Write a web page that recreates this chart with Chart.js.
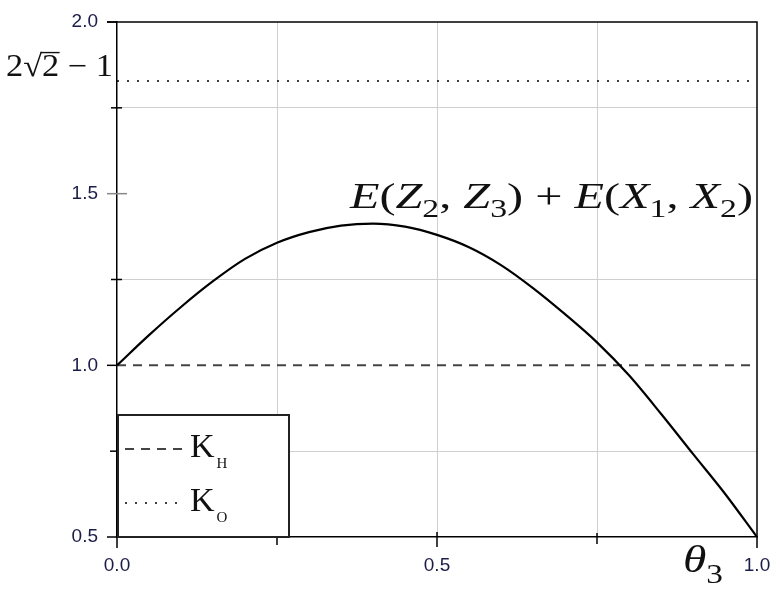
<!DOCTYPE html>
<html><head><meta charset="utf-8">
<script src="https://cdn.jsdelivr.net/npm/chart.js@4.4.1/dist/chart.umd.min.js"></script>
<style>html,body{margin:0;padding:0;background:#fff;}#wrap{width:782px;height:591px;}</style>
</head><body><div id="wrap"><canvas id="c" width="782" height="591"></canvas></div>
<script>
// ---- data ----
const thetaValues = [0, 0.05, 0.1, 0.15, 0.2, 0.25, 0.3, 0.35, 0.4, 0.45, 0.5, 0.55, 0.6, 0.65, 0.7, 0.75, 0.8, 0.85, 0.9, 0.95, 1.0];
const curveValues = [1.0, 1.088, 1.170, 1.245, 1.310, 1.357, 1.388, 1.407, 1.413, 1.404, 1.380, 1.344, 1.292, 1.225, 1.149, 1.067, 0.971, 0.859, 0.742, 0.626, 0.5];
const kHValue = 1.0;
const kOValue = 1.828;
const xRange = [0, 1];
const yRange = [0.5, 2.0];
const xLabelTicks = [0, 0.5, 1];
const yLabelTicks = [0.5, 1.0, 1.5, 2.0];
const legendMain = ['K', 'K'];
const legendSubs = ['H', 'O'];
const curveLabel = [['E',1,0],['(',0,0],['Z',1,0],['2',0,1],[', ',0,0],['Z',1,0],['3',0,1],[')',0,0],[' + ',0,0],['E',1,0],['(',0,0],['X',1,0],['1',0,1],[', ',0,0],['X',1,0],['2',0,1],[')',0,0]];
const kOLabel = [['2',0,0],['\u221A',0,0],['2',0,0],[' \u2212 1',0,0]];
const xTitle = [['\u03B8',1,0],['3',0,1]];

const SERIF = '"Liberation Serif", "DejaVu Serif", serif';
const SANS = '"Liberation Sans", Arial, sans-serif';

function mathWidth(ctx, pieces, size) {
  let w = 0;
  for (const p of pieces) {
    const fs = p[2] ? size * 0.7 : size;
    ctx.font = (p[1] ? 'italic ' : '') + fs + 'px ' + SERIF;
    w += ctx.measureText(p[0]).width;
  }
  return w;
}
function drawMath(ctx, pieces, x, y, size, targetW, opts) {
  opts = opts || {};
  const nat = mathWidth(ctx, pieces, size);
  const sx = targetW ? targetW / nat : 1;
  ctx.save();
  ctx.translate(x, y);
  ctx.scale(sx, 1);
  ctx.fillStyle = '#111';
  ctx.textBaseline = 'alphabetic';
  ctx.textAlign = 'left';
  let cx = 0;
  pieces.forEach((p, i) => {
    const fs = p[2] ? size * 0.7 : size;
    ctx.font = (p[1] ? 'italic ' : '') + fs + 'px ' + SERIF;
    const dy = p[2] ? size * (opts.subDrop || 0.24) : 0;
    const w = ctx.measureText(p[0]).width;
    ctx.fillText(p[0], cx, dy);
    if (opts.vinculumAfter === i) {
      const nw = mathWidth(ctx, [pieces[i + 1]], size);
      ctx.fillRect(cx + w * 0.92, -size * 0.78, nw + w * 0.1, Math.max(1.2, size * 0.045));
    }
    cx += w;
  });
  ctx.restore();
}

const decor = {
  id: 'decor',
  afterDraw(chart) {
    const ctx = chart.ctx;
    const xs = chart.scales.x, ys = chart.scales.y;
    const a = chart.chartArea;
    ctx.save();
    ctx.strokeStyle = '#000';
    ctx.lineWidth = 1.5;
    ctx.beginPath();
    ctx.moveTo(a.left - 10, a.top); ctx.lineTo(a.right, a.top); ctx.lineTo(a.right, a.bottom);
    ctx.stroke();
    ys.ticks.forEach(t => {
      const v = t.value, py = ys.getPixelForValue(v);
      let l = 6, r = 5, col = '#000';
      if (Math.abs(v - 1.5) < 1e-6) { l = 10; r = 10; col = '#888'; }
      else if (Math.abs(v * 2 - Math.round(v * 2)) < 1e-6) { l = 10; r = 0; }
      else if (Math.abs(v - 0.75) < 1e-6) { l = 7; r = 0; }
      ctx.strokeStyle = col; ctx.lineWidth = 1.5;
      ctx.beginPath(); ctx.moveTo(a.left - l, py); ctx.lineTo(a.left + r, py); ctx.stroke();
    });
    xs.ticks.forEach(t => {
      const v = t.value, px = xs.getPixelForValue(v);
      let up = 4, dn = 7;
      if (Math.abs(v) < 1e-6 || Math.abs(v - 1) < 1e-6) { up = 0; dn = 11; }
      else if (Math.abs(v - 0.5) < 1e-6) { up = 5; dn = 10; }
      else if (Math.abs(v - 0.25) < 1e-6) { up = 0; dn = 8; }
      ctx.strokeStyle = '#000'; ctx.lineWidth = 1.5;
      ctx.beginPath(); ctx.moveTo(px, a.bottom - up); ctx.lineTo(px, a.bottom + dn); ctx.stroke();
    });
    const pyO = ys.getPixelForValue(kOValue);
    drawMath(ctx, kOLabel, 6, pyO - 5, 31, 107, { vinculumAfter: 1 });
    drawMath(ctx, curveLabel, xs.getPixelForValue(0.364), ys.getPixelForValue(1.458), 35, 403, { subDrop: 0.25 });
    drawMath(ctx, xTitle, a.left + 566, a.bottom + 35, 38, 40, { subDrop: 0.28 });
    const lx = a.left + 1, lw = 171, lh = 122, ly = a.bottom - lh;
    ctx.fillStyle = '#fff';
    ctx.fillRect(lx, ly, lw, lh);
    ctx.strokeStyle = '#222'; ctx.lineWidth = 2;
    ctx.strokeRect(lx, ly, lw, lh);
    const ds = chart.data.datasets;
    [1, 2].forEach((di, k) => {
      const d = ds[di];
      const yy = ly + 34 + k * 54;
      ctx.save();
      ctx.strokeStyle = d.borderColor; ctx.lineWidth = d.borderWidth;
      ctx.setLineDash(d.borderDash);
      ctx.beginPath(); ctx.moveTo(lx + 7, yy); ctx.lineTo(lx + (k ? 63 : 67), yy); ctx.stroke();
      ctx.restore();
      ctx.fillStyle = '#111';
      ctx.font = '34px ' + SERIF;
      ctx.textBaseline = 'alphabetic';
      ctx.fillText(legendMain[k], lx + 72, yy + 8);
      const kw = ctx.measureText(legendMain[k]).width;
      ctx.font = '15px ' + SERIF;
      ctx.fillText(legendSubs[k], lx + 74 + kw, yy + 19);
    });
    ctx.restore();
  }
};

const gridGray = '#cfcfcf';
new Chart(document.getElementById('c'), {
  type: 'scatter',
  data: {
    datasets: [
      { label: 'E(Z2,Z3)+E(X1,X2)', data: thetaValues.map((t, i) => ({ x: t, y: curveValues[i] })),
        showLine: true, borderColor: '#000', borderWidth: 2.2, pointRadius: 0, cubicInterpolationMode: 'monotone', fill: false },
      { label: 'KH', data: xRange.map(t => ({ x: t, y: kHValue })), showLine: true,
        borderColor: '#444', borderWidth: 2, borderDash: [9, 7], pointRadius: 0 },
      { label: 'KO', data: xRange.map(t => ({ x: t, y: kOValue })), showLine: true,
        borderColor: '#000', borderWidth: 1.6, borderDash: [2, 8], pointRadius: 0 }
    ]
  },
  options: {
    responsive: false, animation: false,
    layout: { padding: { top: 22, right: 25, left: 0, bottom: 0 } },
    plugins: { legend: { display: false }, tooltip: { enabled: false } },
    scales: {
      x: {
        type: 'linear', min: xRange[0], max: xRange[1],
        afterFit: s => { s.height = 54; s.paddingLeft = 0; s.paddingRight = 0; },
        border: { display: true, color: '#000', width: 1.5 },
        grid: { drawTicks: false, color: c => { const v = c.tick ? c.tick.value : 0; return (v > 0.01 && v < 0.99) ? gridGray : 'rgba(0,0,0,0)'; } },
        ticks: { stepSize: 0.25, padding: 17, color: '#1c1c48', font: { family: SANS, size: 19 },
          maxRotation: 0, autoSkip: false,
          callback: v => xLabelTicks.some(t => Math.abs(t - v) < 1e-6) ? Number(v).toFixed(1) : '' }
      },
      y: {
        type: 'linear', min: yRange[0], max: yRange[1],
        afterFit: s => { s.width = 117; s.paddingTop = 0; s.paddingBottom = 0; },
        border: { display: true, color: '#000', width: 1.5 },
        grid: { drawTicks: false, color: c => { const v = c.tick ? c.tick.value : 0; return Math.abs(v * 2 - Math.round(v * 2)) > 1e-6 ? gridGray : 'rgba(0,0,0,0)'; } },
        ticks: { stepSize: 0.25, padding: 19, color: '#1c1c48', font: { family: SANS, size: 19 }, autoSkip: false,
          callback: v => yLabelTicks.some(t => Math.abs(t - v) < 1e-6) ? Number(v).toFixed(1) : '' }
      }
    }
  },
  plugins: [decor]
});
</script></body></html>
